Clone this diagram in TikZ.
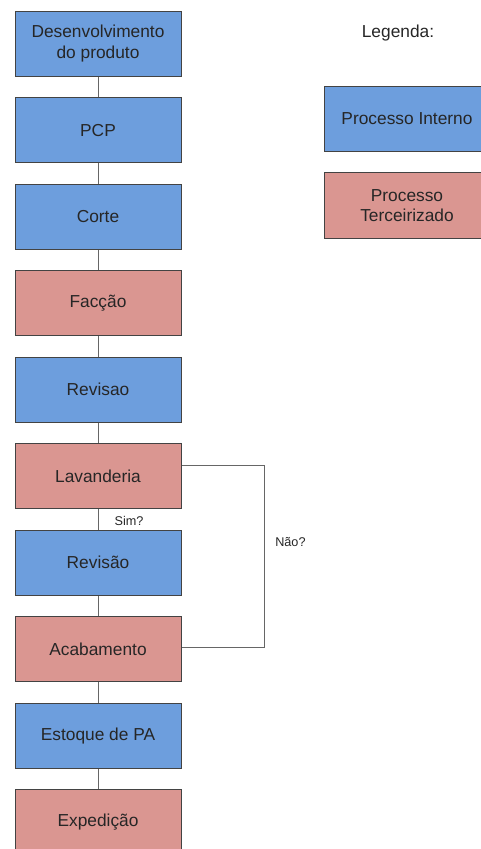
\documentclass[tikz,border=0pt]{standalone}
\usepackage{fontspec}
\setmainfont{Liberation Sans}
\definecolor{interno}{RGB}{109,158,221}
\definecolor{terceiro}{RGB}{218,150,145}
\definecolor{borda}{RGB}{67,67,67}
\definecolor{ligacao}{RGB}{102,102,102}
\begin{document}
\begin{tikzpicture}[x=0.75pt,y=0.75pt,yscale=-1,xscale=1,
    proc/.style={draw=borda,line width=0.75pt,minimum width=124.5pt,minimum height=49pt,
        inner sep=0pt,align=center,text=black!85,font=\fontsize{13}{15.5}\selectfont},
    interno/.style={proc,fill=interno},
    terceiro/.style={proc,fill=terceiro},
    link/.style={draw=ligacao,line width=0.75pt},
    rotulo/.style={inner sep=0.75pt,text=black!85,font=\fontsize{9.5}{11}\selectfont}]
        \useasboundingbox (0,0) rectangle (480,849);
        %Shape: Rectangle (fluxo)
        \node [interno] (desenv) at (98,43.75) {Desenvolvimento\\do produto};
        \node [interno] (pcp) at (98,130.25) {PCP};
        \node [interno] (corte) at (98,216.75) {Corte};
        \node [terceiro] (faccao) at (98,303.25) {Facção};
        \node [interno] (revisao) at (98,389.75) {Revisao};
        \node [terceiro] (lav) at (98,476.25) {Lavanderia};
        \node [interno] (revisao2) at (98,562.75) {Revisão};
        \node [terceiro] (acab) at (98,649.25) {Acabamento};
        \node [interno] (estoque) at (98,735.75) {Estoque de PA};
        \node [terceiro] (exped) at (98,822.25) {Expedição};
        %Straight Lines
        \draw [link] (desenv) -- (pcp);
        \draw [link] (pcp) -- (corte);
        \draw [link] (corte) -- (faccao);
        \draw [link] (faccao) -- (revisao);
        \draw [link] (revisao) -- (lav);
        \draw [link] (lav) -- (revisao2);
        \draw [link] (revisao2) -- (acab);
        \draw [link] (acab) -- (estoque);
        \draw [link] (estoque) -- (exped);
        %Straight Lines (retorno)
        \draw [link] ([yshift=-8.25pt]lav.east) -- ++(83,0) |- ([yshift=-1.5pt]acab.east);
        % Text Node
        \node [rotulo] (sim) at (129,521) {Sim?};
        % Text Node
        \node [rotulo,anchor=west] (nao) at (274,542) {Não?};
        %Shape: Rectangle (legenda)
        \node [proc,draw=none,fill=none,minimum width=0pt,minimum height=0pt] (legenda) at (398,33) {Legenda:};
        \node [interno] (leginterno) at (407,119) {Processo Interno};
        \node [terceiro] (legterceiro) at (407,205.5) {Processo\\Terceirizado};
    \end{tikzpicture}
\end{document}
